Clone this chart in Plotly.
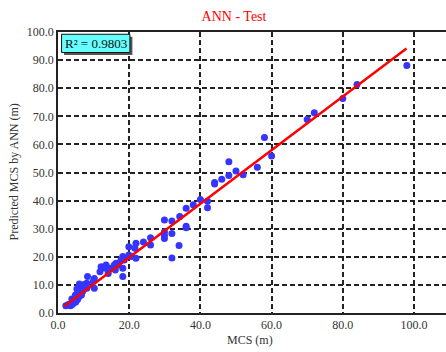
import plotly.graph_objects as go

# Observed MCS (m) vs ANN-predicted MCS (m), test set
mcs_obs = [2.2, 2.8, 3.2, 3.5, 3.8, 4.0, 4.2, 4.4, 4.6, 4.8, 5.0, 5.2, 5.4, 5.5, 5.6,
           5.8, 6.0, 6.1, 6.3, 6.4, 6.6, 6.8, 7.0, 7.2, 7.5, 4.9, 3.9, 5.3, 6.0,
           8.3, 8.1, 8.1, 10.2, 9.9, 10.2, 12.1, 11.8, 13.5, 13.3, 14.4, 14.1, 15.8,
           16.1, 16.3, 16.8, 18.2, 18.2, 18.2, 17.7, 18.6, 19.9, 20.5, 19.9, 21.9,
           21.6, 21.9, 24.0, 26.0, 26.0, 29.9, 29.9, 29.9, 29.9, 32.0, 32.0, 32.0,
           34.0, 34.2, 36.0, 36.0, 36.0, 38.0, 40.0, 42.0, 42.0, 44.0, 44.0, 46.0,
           48.0, 48.0, 50.0, 52.0, 56.0, 58.0, 60.0, 70.0, 72.0, 80.0, 84.0, 98.0]
mcs_ann = [2.6, 2.9, 3.1, 2.6, 3.5, 3.0, 4.2, 3.6, 5.0, 4.4, 3.9, 5.6, 6.6, 4.8, 7.6,
           8.4, 5.9, 7.0, 8.6, 9.6, 6.4, 9.1, 7.8, 9.9, 10.2, 6.4, 5.0, 8.5, 10.3,
           13.0, 10.6, 8.8, 12.3, 11.2, 8.8, 16.5, 14.7, 17.1, 15.9, 15.9, 14.1, 17.1,
           15.3, 17.7, 17.1, 15.9, 13.0, 20.1, 18.9, 18.9, 20.6, 20.1, 23.6, 24.8,
           23.0, 19.5, 25.3, 26.8, 24.2, 33.1, 28.8, 27.6, 26.5, 32.7, 28.3, 19.6,
           24.0, 34.3, 37.3, 30.9, 30.3, 38.5, 40.4, 39.8, 37.5, 46.4, 45.9, 47.6,
           48.9, 53.8, 50.5, 49.2, 51.9, 62.5, 55.9, 68.9, 71.3, 76.3, 81.3, 88.1]

# Trend line end points
fit_x = [1.8, 97.9]
fit_y = [2.4, 94.1]

r2_text = "R² = 0.9803"
x_ticks = [0, 20, 40, 60, 80, 100]
y_ticks = [0, 10, 20, 30, 40, 50, 60, 70, 80, 90, 100]

SERIF = "Liberation Serif, Times New Roman, serif"
GRID = dict(showgrid=True, gridcolor="#222222", gridwidth=1.5, griddash="5px,3px")

fig = go.Figure()
fig.add_trace(go.Scatter(x=mcs_obs, y=mcs_ann, mode="markers",
                         marker=dict(color="#3535ff", size=7, line=dict(width=0)),
                         showlegend=False, hoverinfo="skip"))
fig.add_trace(go.Scatter(x=fit_x, y=fit_y, mode="lines",
                         line=dict(color="#ff0000", width=2.5),
                         showlegend=False, hoverinfo="skip"))

fig.update_layout(
    width=446, height=352,
    margin=dict(l=58, r=0, t=32, b=39),
    paper_bgcolor="white", plot_bgcolor="white",
    font=dict(family=SERIF, color="#333333"),
    title=dict(text="ANN - Test", font=dict(family=SERIF, size=14, color="#ff0000"),
               xref="container", x=234 / 446, xanchor="center",
               yref="container", y=1 - 16 / 352, yanchor="middle"),
    xaxis=dict(range=[0, 109], tickvals=x_ticks, tickformat=".1f",
               tickfont=dict(family=SERIF, size=12, color="#333333"),
               showline=True, linecolor="#222222", linewidth=1.5, mirror=True,
               zeroline=False, ticks="", automargin=False, **GRID),
    yaxis=dict(range=[0, 100], tickvals=y_ticks, tickformat=".1f",
               tickfont=dict(family=SERIF, size=12, color="#333333"),
               showline=True, linecolor="#222222", linewidth=1.5, mirror=False,
               zeroline=False, ticks="", automargin=False, **GRID),
    shapes=[
        dict(type="rect", xref="x", yref="y", x0=1.7, x1=20.9, y0=91.8, y1=98.3,
             fillcolor="#555555", line=dict(width=0), layer="above"),
        dict(type="rect", xref="x", yref="y", x0=1.0, x1=20.2, y0=92.7, y1=99.2,
             fillcolor="#66ffff", line=dict(color="#111111", width=1), layer="above"),
    ],
    annotations=[
        dict(text=r2_text, xref="x", yref="y", x=10.6, y=95.95, showarrow=False,
             xanchor="center", yanchor="middle",
             font=dict(family=SERIF, size=13, color="#111111")),
        dict(text="MCS (m)", xref="paper", yref="paper", x=(250 - 58) / 388,
             y=-(340 - 312.7) / 281, showarrow=False, xanchor="center", yanchor="middle",
             font=dict(family=SERIF, size=12, color="#333333")),
        dict(text="Predicted MCS by ANN (m)", xref="paper", yref="paper",
             x=(13 - 58) / 388, y=0.5, textangle=-90, showarrow=False,
             xanchor="center", yanchor="middle",
             font=dict(family=SERIF, size=12, color="#333333")),
    ],
)

fig.write_html("out.html", config={"displayModeBar": False},
               post_script="document.body.style.margin='0';document.body.style.padding='0';")
